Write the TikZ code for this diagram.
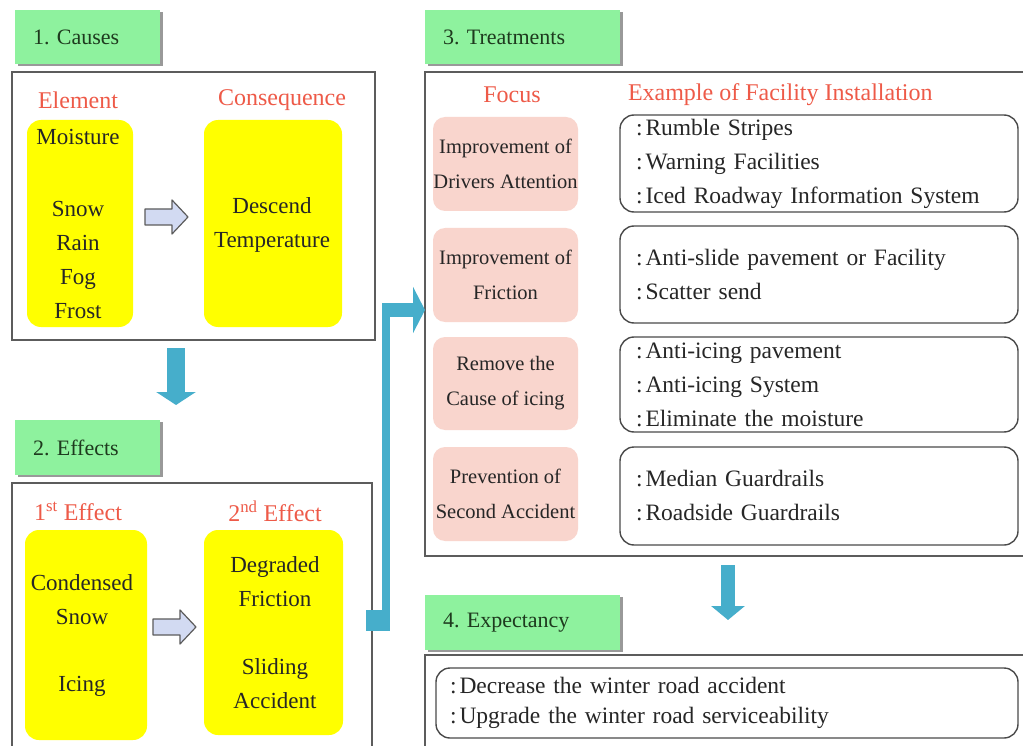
\documentclass[tikz,border=0pt]{standalone}
\usepackage{fontspec}
\setmainfont{Liberation Serif}
\usetikzlibrary{arrows.meta,shadows}
\definecolor{lgreen}{HTML}{8EF29E}
\definecolor{tealc}{HTML}{46AECB}
\definecolor{redtxt}{HTML}{EE5A48}
\definecolor{pinkf}{HTML}{F9D5CD}
\definecolor{yel}{HTML}{FFFF00}
\definecolor{framec}{HTML}{5C5C5C}
\definecolor{arrowf}{HTML}{D2DAF2}
\definecolor{txtc}{HTML}{262626}
\definecolor{labtxt}{HTML}{1E3A1E}
\newcommand{\cl}{:\hspace{3pt}}
\frenchspacing
\begin{document}
\begin{tikzpicture}[x=1pt,y=-1pt,
  every node/.style={inner sep=0pt, outer sep=0pt},
  labelbox/.style={anchor=north west, fill=lgreen, minimum height=54pt, text width=#1, inner xsep=18pt, align=left, font=\fontsize{22}{26}\selectfont, text=labtxt, drop shadow={shadow xshift=3pt, shadow yshift=-2pt, fill=black!50, opacity=0.8}},
  frame/.style={draw=framec, line width=1.6pt, anchor=north west},
  ybox/.style={fill=yel, rounded corners=14pt, anchor=north west},
  redh/.style={text=redtxt, font=\fontsize{24}{28}\selectfont},
  ytxt/.style={text=txtc, font=\fontsize{23}{34}\selectfont, align=center},
  pbox/.style={fill=pinkf, rounded corners=12pt, anchor=north west, minimum width=145pt, text=txtc, font=\fontsize{20.5}{35}\selectfont, align=center},
  wbox/.style={draw=framec!80!black, line width=1.4pt, rounded corners=14pt, anchor=north west, text width=366pt, inner xsep=16pt, align=left, text=txtc, font=\fontsize{23.5}{34}\selectfont},
  bigarrow/.style={draw=tealc, line width=18pt, -{Triangle[width=39pt,length=13pt]}},
  harrow/.pic={\draw[draw=framec, line width=1.2pt, fill=arrowf, line join=round] (0,-8) -- (27,-8) -- (27,-17) -- (43,0) -- (27,17) -- (27,8) -- (0,8) -- cycle;}
]
\clip (0,0) rectangle (1023,746);
\fill[white] (0,0) rectangle (1023,746);

% frames
\node[frame, minimum width=363pt, minimum height=268pt] (cf) at (12,72) {};
\node[frame, minimum width=360pt, minimum height=290pt] (ef) at (12,483) {};
\node[frame, minimum width=620pt, minimum height=484pt] (tf) at (425,72) {};
\node[frame, minimum width=620pt, minimum height=120pt] (xf) at (425,655) {};

% labels
\node[labelbox=109pt] (l1) at (15,10) {1. Causes};
\node[labelbox=109pt, minimum height=55pt] (l2) at (15,420) {2. Effects};
\node[labelbox=159pt] (l3) at (425,10) {3. Treatments};
\node[labelbox=159pt, minimum height=55pt] (l4) at (425,595) {4. Expectancy};

% headings
\node[redh] (h1) at (78,100) {Element};
\node[redh] (h2) at (282,100) {Consequence};
\node[redh] (h3) at (78,511) {1\textsuperscript{st} Effect};
\node[redh] (h4) at (275,511) {2\textsuperscript{nd} Effect};
\node[redh] (h5) at (512,95) {Focus};
\node[redh, anchor=west] (h6) at (628,95) {Example of Facility Installation};

% yellow boxes
\node[ybox, minimum width=106pt, minimum height=207pt] (y1) at (27,120) {};
\node[ybox, minimum width=138pt, minimum height=207pt] (y2) at (204,120) {};
\node[ybox, minimum width=122pt, minimum height=210pt] (y3) at (25,530) {};
\node[ybox, minimum width=139pt, minimum height=205pt] (y4) at (204,530) {};

\node[ytxt] (t1) at (78,137) {Moisture};
\node[ytxt] (t2) at (78,259.5) {Snow\\Rain\\Fog\\Frost};
\node[ytxt] (t3) at (272,225) {Descend\\Temperature};
\node[ytxt] (t4) at (82,599.5) {Condensed\\Snow};
\node[ytxt] (t5) at (82,686) {Icing};
\node[ytxt] (t6) at (275,582) {Degraded\\Friction};
\node[ytxt] (t7) at (275,683.5) {Sliding\\Accident};

\pic at (145,217) {harrow};
\pic at (153,627) {harrow};

% treatments
\node[pbox, minimum height=94pt] (p1) at (433,117) {Improvement of\\Drivers Attention};
\node[pbox, minimum height=94pt] (p2) at (433,228) {Improvement of\\Friction};
\node[pbox, minimum height=93pt] (p3) at (433,337) {Remove the\\Cause of icing};
\node[pbox, minimum height=94pt] (p4) at (433,447) {Prevention of\\Second Accident};

\node[wbox, minimum height=97pt] (w1) at (620,115) {\cl Rumble Stripes\\\cl Warning Facilities\\\cl Iced Roadway Information System};
\node[wbox, minimum height=97pt] (w2) at (620,226) {\cl Anti-slide pavement or Facility\\\cl Scatter send};
\node[wbox, minimum height=95pt] (w3) at (620,337) {\cl Anti-icing pavement\\\cl Anti-icing System\\\cl Eliminate the moisture};
\node[wbox, minimum height=98pt] (w4) at (620,447) {\cl Median Guardrails\\\cl Roadside Guardrails};

\node[wbox, text width=554pt, inner xsep=14pt, minimum height=70pt, font=\fontsize{23.5}{30}\selectfont] (w5) at (436,668) {\cl Decrease the winter road accident\\\cl Upgrade the winter road serviceability};

% teal arrows
\coordinate (d1a) at (176,348);
\coordinate (d1b) at (176,405);
\draw[bigarrow] (d1a) -- (d1b);
\coordinate (d2a) at (728,565);
\coordinate (d2b) at (728,620);
\draw[draw=tealc, line width=14pt, -{Triangle[width=33pt,length=14pt]}] (d2a) -- (d2b);

\node[fill=tealc, anchor=north west, minimum width=24pt, minimum height=21pt] (sq) at (366,610) {};
\coordinate (bend) at (386,303);
\draw[tealc, line width=8pt] ([xshift=-4pt]sq.north east) -- ([xshift=-4pt]sq.north east |- bend);
\coordinate (hb) at (382,310);
\draw[tealc, line width=14pt, -{Triangle[width=46pt,length=12pt]}] (hb) -- (tf.west |- hb);
\end{tikzpicture}
\end{document}
